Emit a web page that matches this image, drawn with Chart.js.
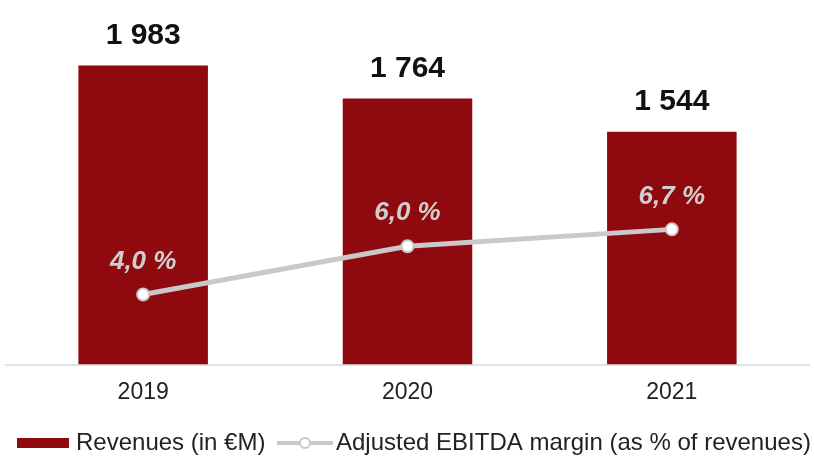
<!DOCTYPE html>
<html>
<head>
<meta charset="utf-8">
<script src="https://cdn.jsdelivr.net/npm/chart.js@4.4.0/dist/chart.umd.min.js"></script>
<style>
  html, body { margin: 0; padding: 0; background: #fff; }
  #wrap { width: 814px; height: 457px; position: relative; }
</style>
</head>
<body>
<div id="wrap"><canvas id="chart"></canvas></div>
<script>
const years = ['2019', '2020', '2021'];
const revenues = [1983, 1764, 1544];
const margins = [4.0, 6.0, 6.7];
const revenueLabel = 'Revenues (in €M)';
const marginLabel = 'Adjusted EBITDA margin (as % of revenues)';

const barColor = '#8f0a0f';
const lineColor = '#c9c9c9';
const fontFamily = '"Liberation Sans", Arial, sans-serif';

function fmtThousands(v) {
    return String(v).replace(/\B(?=(\d{3})+(?!\d))/g, ' ');
}

function fmtPercent(v) {
    return v.toFixed(1).replace('.', ',') + ' %';
}

// value labels, base line and legend drawn on top of the chart
const extras = {
    id: 'extras',
    beforeDatasetsDraw(chart) {
        const ctx = chart.ctx;
        const area = chart.chartArea;
        ctx.save();
        ctx.strokeStyle = '#d9d9d9';
        ctx.lineWidth = 1.5;
        ctx.beginPath();
        ctx.moveTo(5, area.bottom + 0.5);
        ctx.lineTo(810, area.bottom + 0.5);
        ctx.stroke();
        ctx.restore();
    },
    afterDatasetsDraw(chart) {
        const ctx = chart.ctx;
        ctx.save();

        const lineMeta = chart.getDatasetMeta(0);
        const barMeta = chart.getDatasetMeta(1);

        // bar values
        ctx.textAlign = 'center';
        ctx.textBaseline = 'middle';
        ctx.fillStyle = '#111';
        ctx.font = 'bold 30px ' + fontFamily;
        barMeta.data.forEach((bar, i) => {
            ctx.fillText(fmtThousands(revenues[i]), bar.x, bar.y - 30);
        });

        // margin values
        ctx.fillStyle = '#cfcfcf';
        ctx.font = 'italic bold 26px ' + fontFamily;
        lineMeta.data.forEach((pt, i) => {
            ctx.fillText(fmtPercent(margins[i]), pt.x, pt.y - 33);
        });

        // legend
        const ly = 443;
        ctx.fillStyle = barColor;
        ctx.fillRect(17, 438, 52, 10);
        ctx.textAlign = 'left';
        ctx.fillStyle = '#222';
        ctx.font = '24px ' + fontFamily;
        ctx.fillText(revenueLabel, 76, ly);

        ctx.strokeStyle = lineColor;
        ctx.lineWidth = 4;
        ctx.beginPath();
        ctx.moveTo(277, ly);
        ctx.lineTo(333, ly);
        ctx.stroke();
        ctx.fillStyle = '#fff';
        ctx.lineWidth = 2;
        ctx.beginPath();
        ctx.arc(305, ly, 5, 0, Math.PI * 2);
        ctx.fill();
        ctx.stroke();
        ctx.fillStyle = '#222';
        ctx.fillText(marginLabel, 336, ly);

        ctx.restore();
    }
};

new Chart(document.getElementById('chart'), {
    data: {
        labels: years,
        datasets: [{
            type: 'line',
            label: marginLabel,
            data: margins,
            yAxisID: 'y1',
            borderColor: lineColor,
            borderWidth: 5,
            pointRadius: 6,
            pointBackgroundColor: '#fff',
            pointBorderColor: lineColor,
            pointBorderWidth: 2,
            tension: 0,
            order: 0
        }, {
            type: 'bar',
            label: revenueLabel,
            data: revenues,
            yAxisID: 'y',
            backgroundColor: barColor,
            categoryPercentage: 1,
            barPercentage: 0.49,
            order: 1
        }]
    },
    options: {
        responsive: true,
        maintainAspectRatio: false,
        animation: false,
        layout: {
            padding: { top: 63, bottom: 45, left: 11, right: 10 }
        },
        plugins: {
            legend: { display: false },
            tooltip: { enabled: false }
        },
        scales: {
            x: {
                grid: { display: false },
                border: { display: false },
                ticks: {
                    color: '#222',
                    padding: 6,
                    font: { family: fontFamily, size: 23 }
                }
            },
            y: {
                display: false,
                min: 0,
                max: 2000
            },
            y1: {
                display: false,
                position: 'right',
                min: 1.1,
                max: 13.6
            }
        }
    },
    plugins: [extras]
});
</script>
</body>
</html>
